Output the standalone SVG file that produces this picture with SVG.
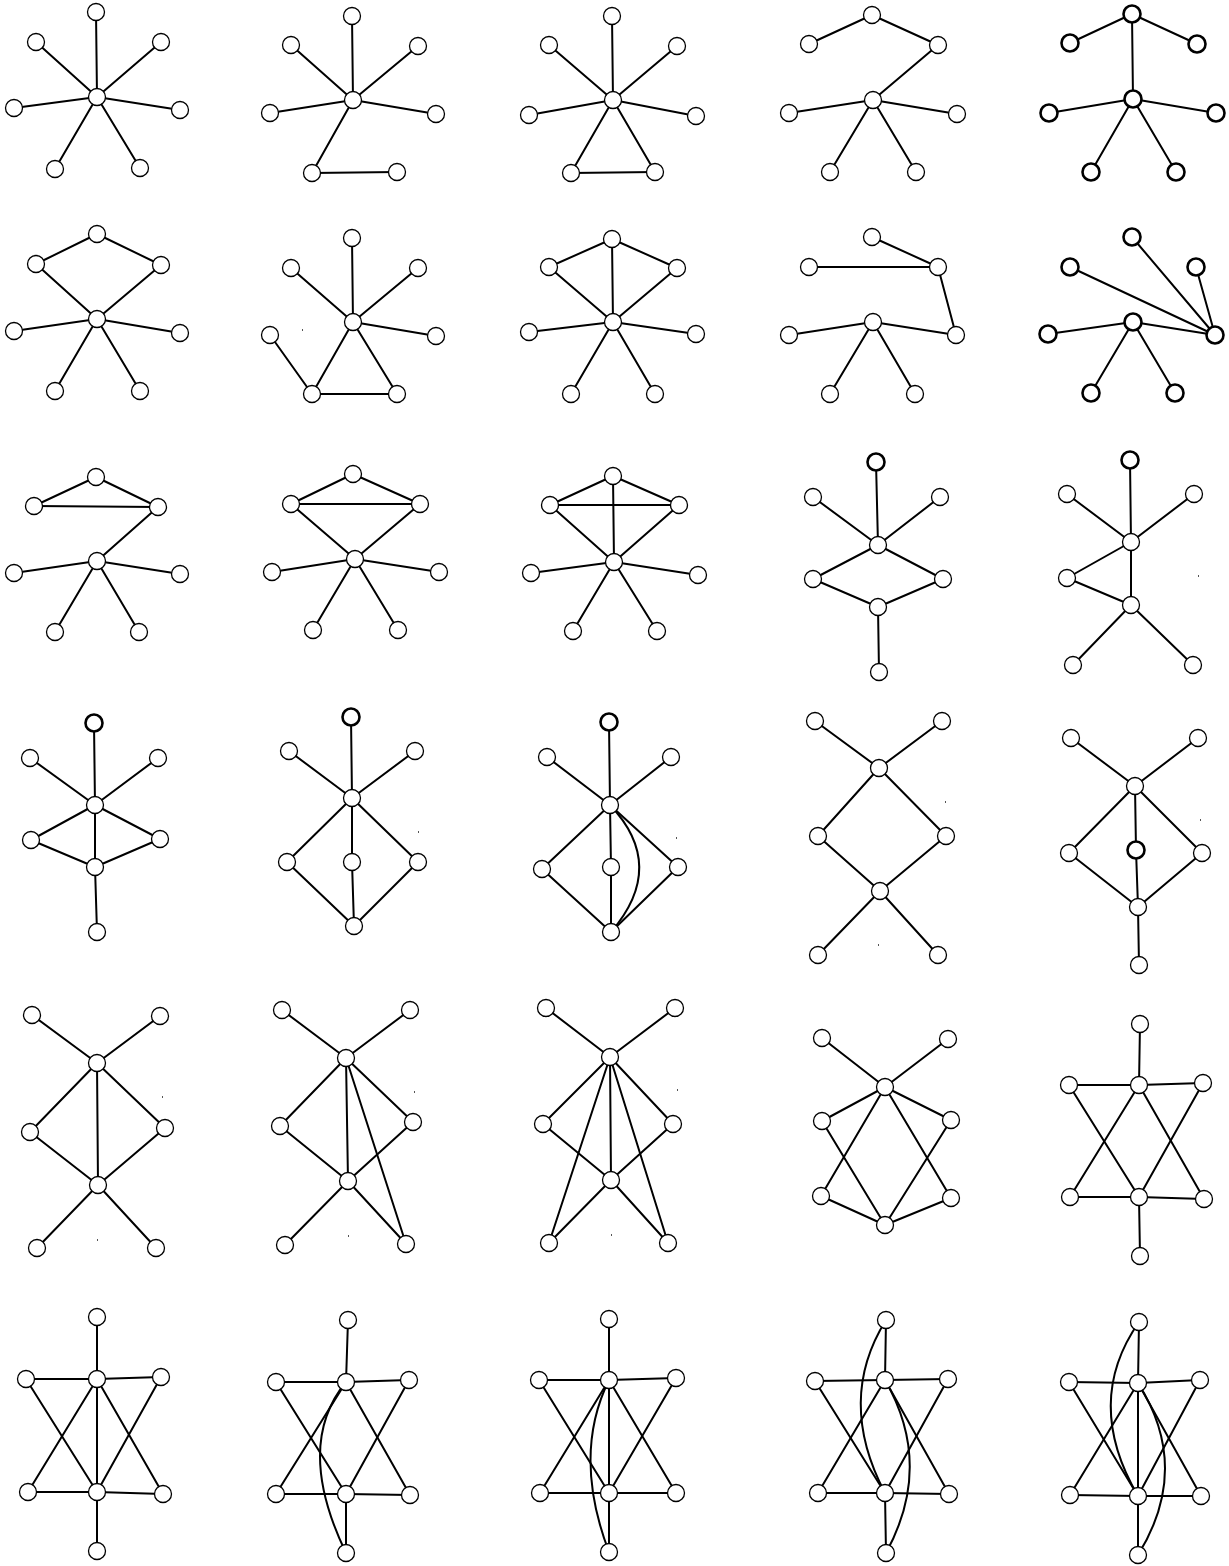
<svg xmlns="http://www.w3.org/2000/svg" width="1229" height="1566" viewBox="0 0 1229 1566">
<style>
.e line,.e path{stroke:#000;stroke-width:2;fill:none;stroke-linecap:round}
circle{fill:#fff;stroke:#000;stroke-width:1.3}
.t circle{stroke-width:2.6}
.dot{fill:#555}
</style>
<rect width="1229" height="1566" fill="#fff"/>
<g id="connectors" class="e">
<!-- G1 -->
<line x1="97" y1="97" x2="96" y2="12"/><line x1="97" y1="97" x2="36" y2="42"/><line x1="97" y1="97" x2="161" y2="42"/><line x1="97" y1="97" x2="14" y2="108"/><line x1="97" y1="97" x2="180" y2="110"/><line x1="97" y1="97" x2="55" y2="169"/><line x1="97" y1="97" x2="140" y2="168"/>
<!-- G2 -->
<line x1="353" y1="100" x2="352" y2="16"/><line x1="353" y1="100" x2="291" y2="45"/><line x1="353" y1="100" x2="418" y2="46"/><line x1="353" y1="100" x2="270" y2="113"/><line x1="353" y1="100" x2="436" y2="114"/><line x1="353" y1="100" x2="312" y2="173"/><line x1="312" y1="173" x2="397" y2="172"/>
<!-- G3 -->
<line x1="613" y1="100" x2="612" y2="16"/><line x1="613" y1="100" x2="549" y2="45"/><line x1="613" y1="100" x2="677" y2="46"/><line x1="613" y1="100" x2="529" y2="115"/><line x1="613" y1="100" x2="696" y2="116"/><line x1="613" y1="100" x2="571" y2="173"/><line x1="613" y1="100" x2="655" y2="172"/><line x1="571" y1="173" x2="655" y2="172"/>
<!-- G4 -->
<line x1="872" y1="15" x2="809" y2="44"/><line x1="872" y1="15" x2="938" y2="45"/><line x1="938" y1="45" x2="873" y2="100"/><line x1="873" y1="100" x2="789" y2="113"/><line x1="873" y1="100" x2="957" y2="114"/><line x1="873" y1="100" x2="830" y2="172"/><line x1="873" y1="100" x2="916" y2="172"/>
<!-- G5 -->
<line x1="1132" y1="14" x2="1070" y2="43"/><line x1="1132" y1="14" x2="1197" y2="44"/><line x1="1132" y1="14" x2="1133" y2="99"/><line x1="1133" y1="99" x2="1049" y2="113"/><line x1="1133" y1="99" x2="1216" y2="113"/><line x1="1133" y1="99" x2="1091" y2="172"/><line x1="1133" y1="99" x2="1176" y2="172"/>
<!-- G6 -->
<line x1="97" y1="234" x2="36" y2="264"/><line x1="97" y1="234" x2="161" y2="265"/><line x1="36" y1="264" x2="97" y2="319"/><line x1="161" y1="265" x2="97" y2="319"/><line x1="97" y1="319" x2="14" y2="331"/><line x1="97" y1="319" x2="180" y2="333"/><line x1="97" y1="319" x2="55" y2="391"/><line x1="97" y1="319" x2="140" y2="391"/>
<!-- G7 -->
<line x1="353" y1="322" x2="352" y2="238"/><line x1="353" y1="322" x2="291" y2="268"/><line x1="353" y1="322" x2="418" y2="268"/><line x1="353" y1="322" x2="436" y2="336"/><line x1="353" y1="322" x2="312" y2="394"/><line x1="353" y1="322" x2="397" y2="394"/><line x1="312" y1="394" x2="397" y2="394"/><line x1="270" y1="335" x2="312" y2="394"/>
<!-- G8 -->
<line x1="612" y1="239" x2="549" y2="267"/><line x1="612" y1="239" x2="677" y2="268"/><line x1="612" y1="239" x2="613" y2="322"/><line x1="549" y1="267" x2="613" y2="322"/><line x1="677" y1="268" x2="613" y2="322"/><line x1="613" y1="322" x2="529" y2="332"/><line x1="613" y1="322" x2="696" y2="334"/><line x1="613" y1="322" x2="571" y2="394"/><line x1="613" y1="322" x2="655" y2="394"/>
<!-- G9 -->
<line x1="872" y1="237" x2="938" y2="267"/><line x1="809" y1="267" x2="938" y2="267"/><line x1="938" y1="267" x2="956" y2="335"/><line x1="873" y1="322" x2="789" y2="335"/><line x1="873" y1="322" x2="956" y2="335"/><line x1="873" y1="322" x2="830" y2="394"/><line x1="873" y1="322" x2="915" y2="394"/>
<!-- G10 -->
<line x1="1070" y1="267" x2="1215" y2="335"/><line x1="1132" y1="237" x2="1215" y2="335"/><line x1="1196" y1="267" x2="1215" y2="335"/><line x1="1133" y1="322" x2="1048" y2="334"/><line x1="1133" y1="322" x2="1215" y2="335"/><line x1="1133" y1="322" x2="1091" y2="393"/><line x1="1133" y1="322" x2="1175" y2="393"/>
<!-- G11 -->
<line x1="96" y1="477" x2="34" y2="506"/><line x1="96" y1="477" x2="158" y2="507"/><line x1="34" y1="506" x2="158" y2="507"/><line x1="158" y1="507" x2="97" y2="561"/><line x1="97" y1="561" x2="14" y2="573"/><line x1="97" y1="561" x2="180" y2="574"/><line x1="97" y1="561" x2="55" y2="632"/><line x1="97" y1="561" x2="139" y2="632"/>
<!-- G12 -->
<line x1="353" y1="474" x2="291" y2="504"/><line x1="353" y1="474" x2="420" y2="504"/><line x1="291" y1="504" x2="420" y2="504"/><line x1="291" y1="504" x2="355" y2="559"/><line x1="420" y1="504" x2="355" y2="559"/><line x1="355" y1="559" x2="272" y2="572"/><line x1="355" y1="559" x2="439" y2="572"/><line x1="355" y1="559" x2="313" y2="630"/><line x1="355" y1="559" x2="398" y2="630"/>
<!-- G13 -->
<line x1="613" y1="476" x2="550" y2="505"/><line x1="613" y1="476" x2="679" y2="505"/><line x1="550" y1="505" x2="679" y2="505"/><line x1="613" y1="476" x2="614" y2="562"/><line x1="550" y1="505" x2="614" y2="562"/><line x1="679" y1="505" x2="614" y2="562"/><line x1="614" y1="562" x2="531" y2="573"/><line x1="614" y1="562" x2="698" y2="575"/><line x1="614" y1="562" x2="573" y2="631"/><line x1="614" y1="562" x2="657" y2="631"/>
<!-- G14 -->
<line x1="876" y1="462" x2="878" y2="545"/><line x1="813" y1="497" x2="878" y2="545"/><line x1="940" y1="497" x2="878" y2="545"/><line x1="878" y1="545" x2="813" y2="579"/><line x1="878" y1="545" x2="943" y2="579"/><line x1="813" y1="579" x2="878" y2="607"/><line x1="943" y1="579" x2="878" y2="607"/><line x1="878" y1="607" x2="879" y2="672"/>
<!-- G15 -->
<line x1="1130" y1="460" x2="1131" y2="542"/><line x1="1067" y1="494" x2="1131" y2="542"/><line x1="1194" y1="494" x2="1131" y2="542"/><line x1="1131" y1="542" x2="1067" y2="578"/><line x1="1131" y1="542" x2="1131" y2="605"/><line x1="1067" y1="578" x2="1131" y2="605"/><line x1="1131" y1="605" x2="1073" y2="665"/><line x1="1131" y1="605" x2="1193" y2="665"/>
<!-- G16 -->
<line x1="94" y1="723" x2="95" y2="805"/><line x1="30" y1="758" x2="95" y2="805"/><line x1="158" y1="758" x2="95" y2="805"/><line x1="95" y1="805" x2="31" y2="840"/><line x1="95" y1="805" x2="160" y2="839"/><line x1="95" y1="805" x2="95" y2="867"/><line x1="31" y1="840" x2="95" y2="867"/><line x1="160" y1="839" x2="95" y2="867"/><line x1="95" y1="867" x2="97" y2="932"/>
<!-- G17 -->
<line x1="351" y1="717" x2="352" y2="798"/><line x1="289" y1="751" x2="352" y2="798"/><line x1="415" y1="751" x2="352" y2="798"/><line x1="352" y1="798" x2="287" y2="862"/><line x1="352" y1="798" x2="352" y2="862"/><line x1="352" y1="798" x2="418" y2="862"/><line x1="287" y1="862" x2="354" y2="926"/><line x1="352" y1="862" x2="354" y2="926"/><line x1="418" y1="862" x2="354" y2="926"/>
<!-- G18 -->
<line x1="609" y1="722" x2="610" y2="805"/><line x1="547" y1="757" x2="610" y2="805"/><line x1="671" y1="757" x2="610" y2="805"/><line x1="610" y1="805" x2="542" y2="869"/><line x1="610" y1="805" x2="611" y2="867"/><line x1="610" y1="805" x2="678" y2="867"/><line x1="542" y1="869" x2="611" y2="932"/><line x1="611" y1="867" x2="611" y2="932"/><line x1="678" y1="867" x2="611" y2="932"/>
<path d="M610,805 Q668,866 611,932"/>
<!-- G19 -->
<line x1="815" y1="721" x2="879" y2="768"/><line x1="942" y1="721" x2="879" y2="768"/><line x1="879" y1="768" x2="818" y2="836"/><line x1="879" y1="768" x2="946" y2="836"/><line x1="818" y1="836" x2="880" y2="891"/><line x1="946" y1="836" x2="880" y2="891"/><line x1="880" y1="891" x2="818" y2="955"/><line x1="880" y1="891" x2="938" y2="955"/>
<!-- G20 -->
<line x1="1071" y1="738" x2="1135" y2="786"/><line x1="1198" y1="738" x2="1135" y2="786"/><line x1="1135" y1="786" x2="1069" y2="853"/><line x1="1135" y1="786" x2="1136" y2="850"/><line x1="1135" y1="786" x2="1202" y2="853"/><line x1="1069" y1="853" x2="1138" y2="907"/><line x1="1136" y1="850" x2="1138" y2="907"/><line x1="1202" y1="853" x2="1138" y2="907"/><line x1="1138" y1="907" x2="1139" y2="965"/>
<!-- G21 -->
<line x1="32" y1="1015" x2="97" y2="1063"/><line x1="160" y1="1016" x2="97" y2="1063"/><line x1="97" y1="1063" x2="30" y2="1132"/><line x1="97" y1="1063" x2="98" y2="1185"/><line x1="97" y1="1063" x2="165" y2="1128"/><line x1="30" y1="1132" x2="98" y2="1185"/><line x1="165" y1="1128" x2="98" y2="1185"/><line x1="98" y1="1185" x2="37" y2="1248"/><line x1="98" y1="1185" x2="156" y2="1248"/>
<!-- G22 -->
<line x1="282" y1="1010" x2="346" y2="1058"/><line x1="410" y1="1010" x2="346" y2="1058"/><line x1="346" y1="1058" x2="280" y2="1126"/><line x1="346" y1="1058" x2="348" y2="1181"/><line x1="346" y1="1058" x2="413" y2="1122"/><line x1="346" y1="1058" x2="406" y2="1244"/><line x1="280" y1="1126" x2="348" y2="1181"/><line x1="413" y1="1122" x2="348" y2="1181"/><line x1="348" y1="1181" x2="285" y2="1245"/><line x1="348" y1="1181" x2="406" y2="1244"/>
<!-- G23 -->
<line x1="546" y1="1008" x2="610" y2="1057"/><line x1="675" y1="1008" x2="610" y2="1057"/><line x1="610" y1="1057" x2="543" y2="1124"/><line x1="610" y1="1057" x2="673" y2="1124"/><line x1="610" y1="1057" x2="611" y2="1180"/><line x1="610" y1="1057" x2="549" y2="1243"/><line x1="610" y1="1057" x2="668" y2="1243"/><line x1="543" y1="1124" x2="611" y2="1180"/><line x1="673" y1="1124" x2="611" y2="1180"/><line x1="611" y1="1180" x2="549" y2="1243"/><line x1="611" y1="1180" x2="668" y2="1243"/>
<!-- G24 -->
<line x1="822" y1="1038" x2="885" y2="1087"/><line x1="948" y1="1039" x2="885" y2="1087"/><line x1="885" y1="1087" x2="822" y2="1121"/><line x1="885" y1="1087" x2="951" y2="1120"/><line x1="885" y1="1087" x2="821" y2="1196"/><line x1="885" y1="1087" x2="951" y2="1198"/><line x1="822" y1="1121" x2="885" y2="1225"/><line x1="951" y1="1120" x2="885" y2="1225"/><line x1="821" y1="1196" x2="885" y2="1225"/><line x1="951" y1="1198" x2="885" y2="1225"/>
<!-- G25 -->
<line x1="1140" y1="1024" x2="1139" y2="1085"/><line x1="1069" y1="1085" x2="1139" y2="1085"/><line x1="1139" y1="1085" x2="1203" y2="1083"/><line x1="1069" y1="1085" x2="1139" y2="1197"/><line x1="1139" y1="1085" x2="1070" y2="1197"/><line x1="1139" y1="1085" x2="1204" y2="1199"/><line x1="1203" y1="1083" x2="1139" y2="1197"/><line x1="1070" y1="1197" x2="1139" y2="1197"/><line x1="1139" y1="1197" x2="1204" y2="1199"/><line x1="1139" y1="1197" x2="1140" y2="1256"/>
<!-- G26 -->
<line x1="97" y1="1317" x2="97" y2="1379"/><line x1="26" y1="1379" x2="97" y2="1379"/><line x1="97" y1="1379" x2="161" y2="1377"/><line x1="26" y1="1379" x2="97" y2="1492"/><line x1="97" y1="1379" x2="28" y2="1492"/><line x1="97" y1="1379" x2="97" y2="1492"/><line x1="97" y1="1379" x2="163" y2="1494"/><line x1="161" y1="1377" x2="97" y2="1492"/><line x1="28" y1="1492" x2="97" y2="1492"/><line x1="97" y1="1492" x2="163" y2="1494"/><line x1="97" y1="1492" x2="97" y2="1551"/>
<!-- G27 -->
<line x1="348" y1="1320" x2="346" y2="1382"/><line x1="276" y1="1382" x2="346" y2="1382"/><line x1="346" y1="1382" x2="409" y2="1380"/><line x1="276" y1="1382" x2="346" y2="1494"/><line x1="346" y1="1382" x2="276" y2="1494"/><line x1="346" y1="1382" x2="410" y2="1495"/><line x1="409" y1="1380" x2="346" y2="1494"/><line x1="276" y1="1494" x2="346" y2="1494"/><line x1="346" y1="1494" x2="410" y2="1495"/><line x1="346" y1="1494" x2="346" y2="1553"/>
<path d="M346,1382 Q294,1445 346,1553"/>
<!-- G28 -->
<line x1="609" y1="1319" x2="609" y2="1380"/><line x1="539" y1="1380" x2="609" y2="1380"/><line x1="609" y1="1380" x2="676" y2="1378"/><line x1="539" y1="1380" x2="609" y2="1493"/><line x1="609" y1="1380" x2="540" y2="1493"/><line x1="609" y1="1380" x2="609" y2="1493"/><line x1="609" y1="1380" x2="676" y2="1493"/><line x1="676" y1="1378" x2="609" y2="1493"/><line x1="540" y1="1493" x2="609" y2="1493"/><line x1="609" y1="1493" x2="676" y2="1493"/><line x1="609" y1="1493" x2="609" y2="1552"/>
<path d="M609,1380 Q572,1455 609,1552"/>
<!-- G29 -->
<line x1="886" y1="1320" x2="885" y2="1380"/><line x1="815" y1="1381" x2="885" y2="1380"/><line x1="885" y1="1380" x2="948" y2="1379"/><line x1="815" y1="1381" x2="885" y2="1493"/><line x1="885" y1="1380" x2="818" y2="1493"/><line x1="885" y1="1380" x2="949" y2="1494"/><line x1="948" y1="1379" x2="885" y2="1493"/><line x1="818" y1="1493" x2="885" y2="1493"/><line x1="885" y1="1493" x2="949" y2="1494"/><line x1="885" y1="1493" x2="886" y2="1553"/>
<path d="M886,1320 Q836,1400 885,1493"/><path d="M885,1380 Q934,1465 886,1553"/>
<!-- G30 -->
<line x1="1139" y1="1322" x2="1138" y2="1383"/><line x1="1069" y1="1382" x2="1138" y2="1383"/><line x1="1138" y1="1383" x2="1200" y2="1380"/><line x1="1069" y1="1382" x2="1138" y2="1496"/><line x1="1138" y1="1383" x2="1070" y2="1495"/><line x1="1138" y1="1383" x2="1138" y2="1496"/><line x1="1138" y1="1383" x2="1201" y2="1496"/><line x1="1200" y1="1380" x2="1138" y2="1496"/><line x1="1070" y1="1495" x2="1138" y2="1496"/><line x1="1138" y1="1496" x2="1201" y2="1496"/><line x1="1138" y1="1496" x2="1138" y2="1555"/>
<path d="M1139,1322 Q1083,1402 1138,1496"/><path d="M1138,1383 Q1192,1468 1138,1555"/>
</g>
<g id="specks" class="dot">
<rect x="302" y="329" width="1" height="2"/><rect x="1198" y="575" width="1" height="2"/><rect x="418" y="831" width="1" height="2"/><rect x="676" y="837" width="1" height="2"/><rect x="945" y="801" width="1" height="2"/><rect x="878" y="944" width="1" height="2"/><rect x="1200" y="819" width="1" height="2"/><rect x="162" y="1096" width="1" height="2"/><rect x="97" y="1239" width="1" height="2"/><rect x="414" y="1091" width="1" height="2"/><rect x="348" y="1235" width="1" height="2"/><rect x="677" y="1089" width="1" height="2"/><rect x="611" y="1234" width="1" height="2"/>
</g>
<g id="nodes">
<g id="g1"><g id="g1a"><circle cx="96" cy="12" r="8.5"/></g><g id="g1b"><circle cx="36" cy="42" r="8.5"/></g><g id="g1c"><circle cx="97" cy="97" r="8.5"/></g><g id="g1d"><circle cx="161" cy="42" r="8.5"/></g><g id="g1e"><circle cx="14" cy="108" r="8.5"/></g><g id="g1f"><circle cx="180" cy="110" r="8.5"/></g><g id="g1g"><circle cx="55" cy="169" r="8.5"/></g><g id="g1h"><circle cx="140" cy="168" r="8.5"/></g></g>
<g id="g2"><g id="g2a"><circle cx="352" cy="16" r="8.5"/></g><g id="g2b"><circle cx="291" cy="45" r="8.5"/></g><g id="g2c"><circle cx="353" cy="100" r="8.5"/></g><g id="g2d"><circle cx="418" cy="46" r="8.5"/></g><g id="g2e"><circle cx="270" cy="113" r="8.5"/></g><g id="g2f"><circle cx="436" cy="114" r="8.5"/></g><g id="g2g"><circle cx="312" cy="173" r="8.5"/></g><g id="g2h"><circle cx="397" cy="172" r="8.5"/></g></g>
<g id="g3"><g id="g3a"><circle cx="612" cy="16" r="8.5"/></g><g id="g3b"><circle cx="549" cy="45" r="8.5"/></g><g id="g3c"><circle cx="613" cy="100" r="8.5"/></g><g id="g3d"><circle cx="677" cy="46" r="8.5"/></g><g id="g3e"><circle cx="529" cy="115" r="8.5"/></g><g id="g3f"><circle cx="696" cy="116" r="8.5"/></g><g id="g3g"><circle cx="571" cy="173" r="8.5"/></g><g id="g3h"><circle cx="655" cy="172" r="8.5"/></g></g>
<g id="g4"><g id="g4a"><circle cx="872" cy="15" r="8.5"/></g><g id="g4b"><circle cx="809" cy="44" r="8.5"/></g><g id="g4c"><circle cx="873" cy="100" r="8.5"/></g><g id="g4d"><circle cx="938" cy="45" r="8.5"/></g><g id="g4e"><circle cx="789" cy="113" r="8.5"/></g><g id="g4f"><circle cx="957" cy="114" r="8.5"/></g><g id="g4g"><circle cx="830" cy="172" r="8.5"/></g><g id="g4h"><circle cx="916" cy="172" r="8.5"/></g></g>
<g id="g5" class="t"><g id="g5a"><circle cx="1132" cy="14" r="8.5"/></g><g id="g5b"><circle cx="1070" cy="43" r="8.5"/></g><g id="g5c"><circle cx="1133" cy="99" r="8.5"/></g><g id="g5d"><circle cx="1197" cy="44" r="8.5"/></g><g id="g5e"><circle cx="1049" cy="113" r="8.5"/></g><g id="g5f"><circle cx="1216" cy="113" r="8.5"/></g><g id="g5g"><circle cx="1091" cy="172" r="8.5"/></g><g id="g5h"><circle cx="1176" cy="172" r="8.5"/></g></g>
<g id="g6"><g id="g6a"><circle cx="97" cy="234" r="8.5"/></g><g id="g6b"><circle cx="36" cy="264" r="8.5"/></g><g id="g6c"><circle cx="97" cy="319" r="8.5"/></g><g id="g6d"><circle cx="161" cy="265" r="8.5"/></g><g id="g6e"><circle cx="14" cy="331" r="8.5"/></g><g id="g6f"><circle cx="180" cy="333" r="8.5"/></g><g id="g6g"><circle cx="55" cy="391" r="8.5"/></g><g id="g6h"><circle cx="140" cy="391" r="8.5"/></g></g>
<g id="g7"><g id="g7a"><circle cx="352" cy="238" r="8.5"/></g><g id="g7b"><circle cx="291" cy="268" r="8.5"/></g><g id="g7c"><circle cx="353" cy="322" r="8.5"/></g><g id="g7d"><circle cx="418" cy="268" r="8.5"/></g><g id="g7e"><circle cx="270" cy="335" r="8.5"/></g><g id="g7f"><circle cx="436" cy="336" r="8.5"/></g><g id="g7g"><circle cx="312" cy="394" r="8.5"/></g><g id="g7h"><circle cx="397" cy="394" r="8.5"/></g></g>
<g id="g8"><g id="g8a"><circle cx="612" cy="239" r="8.5"/></g><g id="g8b"><circle cx="549" cy="267" r="8.5"/></g><g id="g8c"><circle cx="613" cy="322" r="8.5"/></g><g id="g8d"><circle cx="677" cy="268" r="8.5"/></g><g id="g8e"><circle cx="529" cy="332" r="8.5"/></g><g id="g8f"><circle cx="696" cy="334" r="8.5"/></g><g id="g8g"><circle cx="571" cy="394" r="8.5"/></g><g id="g8h"><circle cx="655" cy="394" r="8.5"/></g></g>
<g id="g9"><g id="g9a"><circle cx="872" cy="237" r="8.5"/></g><g id="g9b"><circle cx="809" cy="267" r="8.5"/></g><g id="g9c"><circle cx="873" cy="322" r="8.5"/></g><g id="g9d"><circle cx="938" cy="267" r="8.5"/></g><g id="g9e"><circle cx="789" cy="335" r="8.5"/></g><g id="g9f"><circle cx="956" cy="335" r="8.5"/></g><g id="g9g"><circle cx="830" cy="394" r="8.5"/></g><g id="g9h"><circle cx="915" cy="394" r="8.5"/></g></g>
<g id="g10" class="t"><g id="g10a"><circle cx="1132" cy="237" r="8.5"/></g><g id="g10b"><circle cx="1070" cy="267" r="8.5"/></g><g id="g10c"><circle cx="1133" cy="322" r="8.5"/></g><g id="g10d"><circle cx="1196" cy="267" r="8.5"/></g><g id="g10e"><circle cx="1048" cy="334" r="8.5"/></g><g id="g10f"><circle cx="1215" cy="335" r="8.5"/></g><g id="g10g"><circle cx="1091" cy="393" r="8.5"/></g><g id="g10h"><circle cx="1175" cy="393" r="8.5"/></g></g>
<g id="g11"><g id="g11a"><circle cx="96" cy="477" r="8.5"/></g><g id="g11b"><circle cx="34" cy="506" r="8.5"/></g><g id="g11c"><circle cx="97" cy="561" r="8.5"/></g><g id="g11d"><circle cx="158" cy="507" r="8.5"/></g><g id="g11e"><circle cx="14" cy="573" r="8.5"/></g><g id="g11f"><circle cx="180" cy="574" r="8.5"/></g><g id="g11g"><circle cx="55" cy="632" r="8.5"/></g><g id="g11h"><circle cx="139" cy="632" r="8.5"/></g></g>
<g id="g12"><g id="g12a"><circle cx="353" cy="474" r="8.5"/></g><g id="g12b"><circle cx="291" cy="504" r="8.5"/></g><g id="g12c"><circle cx="355" cy="559" r="8.5"/></g><g id="g12d"><circle cx="420" cy="504" r="8.5"/></g><g id="g12e"><circle cx="272" cy="572" r="8.5"/></g><g id="g12f"><circle cx="439" cy="572" r="8.5"/></g><g id="g12g"><circle cx="313" cy="630" r="8.5"/></g><g id="g12h"><circle cx="398" cy="630" r="8.5"/></g></g>
<g id="g13"><g id="g13a"><circle cx="613" cy="476" r="8.5"/></g><g id="g13b"><circle cx="550" cy="505" r="8.5"/></g><g id="g13c"><circle cx="614" cy="562" r="8.5"/></g><g id="g13d"><circle cx="679" cy="505" r="8.5"/></g><g id="g13e"><circle cx="531" cy="573" r="8.5"/></g><g id="g13f"><circle cx="698" cy="575" r="8.5"/></g><g id="g13g"><circle cx="573" cy="631" r="8.5"/></g><g id="g13h"><circle cx="657" cy="631" r="8.5"/></g></g>
<g id="g14"><g id="g14a" class="t"><circle cx="876" cy="462" r="8.5"/></g><g id="g14b"><circle cx="813" cy="497" r="8.5"/></g><g id="g14c"><circle cx="878" cy="545" r="8.5"/></g><g id="g14d"><circle cx="940" cy="497" r="8.5"/></g><g id="g14e"><circle cx="813" cy="579" r="8.5"/></g><g id="g14f"><circle cx="943" cy="579" r="8.5"/></g><g id="g14g"><circle cx="878" cy="607" r="8.5"/></g><g id="g14h"><circle cx="879" cy="672" r="8.5"/></g></g>
<g id="g15"><g id="g15a" class="t"><circle cx="1130" cy="460" r="8.5"/></g><g id="g15b"><circle cx="1067" cy="494" r="8.5"/></g><g id="g15c"><circle cx="1131" cy="542" r="8.5"/></g><g id="g15d"><circle cx="1194" cy="494" r="8.5"/></g><g id="g15e"><circle cx="1067" cy="578" r="8.5"/></g><g id="g15g"><circle cx="1131" cy="605" r="8.5"/></g><g id="g15k"><circle cx="1073" cy="665" r="8.5"/></g><g id="g15m"><circle cx="1193" cy="665" r="8.5"/></g></g>
<g id="g16"><g id="g16a" class="t"><circle cx="94" cy="723" r="8.5"/></g><g id="g16b"><circle cx="30" cy="758" r="8.5"/></g><g id="g16c"><circle cx="95" cy="805" r="8.5"/></g><g id="g16d"><circle cx="158" cy="758" r="8.5"/></g><g id="g16e"><circle cx="31" cy="840" r="8.5"/></g><g id="g16f"><circle cx="160" cy="839" r="8.5"/></g><g id="g16g"><circle cx="95" cy="867" r="8.5"/></g><g id="g16h"><circle cx="97" cy="932" r="8.5"/></g></g>
<g id="g17"><g id="g17a" class="t"><circle cx="351" cy="717" r="8.5"/></g><g id="g17b"><circle cx="289" cy="751" r="8.5"/></g><g id="g17c"><circle cx="352" cy="798" r="8.5"/></g><g id="g17d"><circle cx="415" cy="751" r="8.5"/></g><g id="g17e"><circle cx="287" cy="862" r="8.5"/></g><g id="g17m"><circle cx="352" cy="862" r="8.5"/></g><g id="g17f"><circle cx="418" cy="862" r="8.5"/></g><g id="g17h"><circle cx="354" cy="926" r="8.5"/></g></g>
<g id="g18"><g id="g18a" class="t"><circle cx="609" cy="722" r="8.5"/></g><g id="g18b"><circle cx="547" cy="757" r="8.5"/></g><g id="g18c"><circle cx="610" cy="805" r="8.5"/></g><g id="g18d"><circle cx="671" cy="757" r="8.5"/></g><g id="g18e"><circle cx="542" cy="869" r="8.5"/></g><g id="g18m"><circle cx="611" cy="867" r="8.5"/></g><g id="g18f"><circle cx="678" cy="867" r="8.5"/></g><g id="g18h"><circle cx="611" cy="932" r="8.5"/></g></g>
<g id="g19"><g id="g19b"><circle cx="815" cy="721" r="8.5"/></g><g id="g19d"><circle cx="942" cy="721" r="8.5"/></g><g id="g19c"><circle cx="879" cy="768" r="8.5"/></g><g id="g19e"><circle cx="818" cy="836" r="8.5"/></g><g id="g19f"><circle cx="946" cy="836" r="8.5"/></g><g id="g19g"><circle cx="880" cy="891" r="8.5"/></g><g id="g19k"><circle cx="818" cy="955" r="8.5"/></g><g id="g19m"><circle cx="938" cy="955" r="8.5"/></g></g>
<g id="g20"><g id="g20b"><circle cx="1071" cy="738" r="8.5"/></g><g id="g20d"><circle cx="1198" cy="738" r="8.5"/></g><g id="g20c"><circle cx="1135" cy="786" r="8.5"/></g><g id="g20e"><circle cx="1069" cy="853" r="8.5"/></g><g id="g20m" class="t"><circle cx="1136" cy="850" r="8.5"/></g><g id="g20f"><circle cx="1202" cy="853" r="8.5"/></g><g id="g20g"><circle cx="1138" cy="907" r="8.5"/></g><g id="g20h"><circle cx="1139" cy="965" r="8.5"/></g></g>
<g id="g21"><g id="g21b"><circle cx="32" cy="1015" r="8.5"/></g><g id="g21d"><circle cx="160" cy="1016" r="8.5"/></g><g id="g21c"><circle cx="97" cy="1063" r="8.5"/></g><g id="g21e"><circle cx="30" cy="1132" r="8.5"/></g><g id="g21f"><circle cx="165" cy="1128" r="8.5"/></g><g id="g21g"><circle cx="98" cy="1185" r="8.5"/></g><g id="g21k"><circle cx="37" cy="1248" r="8.5"/></g><g id="g21m"><circle cx="156" cy="1248" r="8.5"/></g></g>
<g id="g22"><g id="g22b"><circle cx="282" cy="1010" r="8.5"/></g><g id="g22d"><circle cx="410" cy="1010" r="8.5"/></g><g id="g22c"><circle cx="346" cy="1058" r="8.5"/></g><g id="g22e"><circle cx="280" cy="1126" r="8.5"/></g><g id="g22f"><circle cx="413" cy="1122" r="8.5"/></g><g id="g22g"><circle cx="348" cy="1181" r="8.5"/></g><g id="g22k"><circle cx="285" cy="1245" r="8.5"/></g><g id="g22m"><circle cx="406" cy="1244" r="8.5"/></g></g>
<g id="g23"><g id="g23b"><circle cx="546" cy="1008" r="8.5"/></g><g id="g23d"><circle cx="675" cy="1008" r="8.5"/></g><g id="g23c"><circle cx="610" cy="1057" r="8.5"/></g><g id="g23e"><circle cx="543" cy="1124" r="8.5"/></g><g id="g23f"><circle cx="673" cy="1124" r="8.5"/></g><g id="g23g"><circle cx="611" cy="1180" r="8.5"/></g><g id="g23k"><circle cx="549" cy="1243" r="8.5"/></g><g id="g23m"><circle cx="668" cy="1243" r="8.5"/></g></g>
<g id="g24"><g id="g24b"><circle cx="822" cy="1038" r="8.5"/></g><g id="g24d"><circle cx="948" cy="1039" r="8.5"/></g><g id="g24c"><circle cx="885" cy="1087" r="8.5"/></g><g id="g24e"><circle cx="822" cy="1121" r="8.5"/></g><g id="g24f"><circle cx="951" cy="1120" r="8.5"/></g><g id="g24k"><circle cx="821" cy="1196" r="8.5"/></g><g id="g24m"><circle cx="951" cy="1198" r="8.5"/></g><g id="g24h"><circle cx="885" cy="1225" r="8.5"/></g></g>
<g id="g25"><g id="g25a"><circle cx="1140" cy="1024" r="8.5"/></g><g id="g25b"><circle cx="1069" cy="1085" r="8.5"/></g><g id="g25c"><circle cx="1139" cy="1085" r="8.5"/></g><g id="g25d"><circle cx="1203" cy="1083" r="8.5"/></g><g id="g25k"><circle cx="1070" cy="1197" r="8.5"/></g><g id="g25g"><circle cx="1139" cy="1197" r="8.5"/></g><g id="g25m"><circle cx="1204" cy="1199" r="8.5"/></g><g id="g25h"><circle cx="1140" cy="1256" r="8.5"/></g></g>
<g id="g26"><g id="g26a"><circle cx="97" cy="1317" r="8.5"/></g><g id="g26b"><circle cx="26" cy="1379" r="8.5"/></g><g id="g26c"><circle cx="97" cy="1379" r="8.5"/></g><g id="g26d"><circle cx="161" cy="1377" r="8.5"/></g><g id="g26k"><circle cx="28" cy="1492" r="8.5"/></g><g id="g26g"><circle cx="97" cy="1492" r="8.5"/></g><g id="g26m"><circle cx="163" cy="1494" r="8.5"/></g><g id="g26h"><circle cx="97" cy="1551" r="8.5"/></g></g>
<g id="g27"><g id="g27a"><circle cx="348" cy="1320" r="8.5"/></g><g id="g27b"><circle cx="276" cy="1382" r="8.5"/></g><g id="g27c"><circle cx="346" cy="1382" r="8.5"/></g><g id="g27d"><circle cx="409" cy="1380" r="8.5"/></g><g id="g27k"><circle cx="276" cy="1494" r="8.5"/></g><g id="g27g"><circle cx="346" cy="1494" r="8.5"/></g><g id="g27m"><circle cx="410" cy="1495" r="8.5"/></g><g id="g27h"><circle cx="346" cy="1553" r="8.5"/></g></g>
<g id="g28"><g id="g28a"><circle cx="609" cy="1319" r="8.5"/></g><g id="g28b"><circle cx="539" cy="1380" r="8.5"/></g><g id="g28c"><circle cx="609" cy="1380" r="8.5"/></g><g id="g28d"><circle cx="676" cy="1378" r="8.5"/></g><g id="g28k"><circle cx="540" cy="1493" r="8.5"/></g><g id="g28g"><circle cx="609" cy="1493" r="8.5"/></g><g id="g28m"><circle cx="676" cy="1493" r="8.5"/></g><g id="g28h"><circle cx="609" cy="1552" r="8.5"/></g></g>
<g id="g29"><g id="g29a"><circle cx="886" cy="1320" r="8.5"/></g><g id="g29b"><circle cx="815" cy="1381" r="8.5"/></g><g id="g29c"><circle cx="885" cy="1380" r="8.5"/></g><g id="g29d"><circle cx="948" cy="1379" r="8.5"/></g><g id="g29k"><circle cx="818" cy="1493" r="8.5"/></g><g id="g29g"><circle cx="885" cy="1493" r="8.5"/></g><g id="g29m"><circle cx="949" cy="1494" r="8.5"/></g><g id="g29h"><circle cx="886" cy="1553" r="8.5"/></g></g>
<g id="g30"><g id="g30a"><circle cx="1139" cy="1322" r="8.5"/></g><g id="g30b"><circle cx="1069" cy="1382" r="8.5"/></g><g id="g30c"><circle cx="1138" cy="1383" r="8.5"/></g><g id="g30d"><circle cx="1200" cy="1380" r="8.5"/></g><g id="g30k"><circle cx="1070" cy="1495" r="8.5"/></g><g id="g30g"><circle cx="1138" cy="1496" r="8.5"/></g><g id="g30m"><circle cx="1201" cy="1496" r="8.5"/></g><g id="g30h"><circle cx="1138" cy="1555" r="8.5"/></g></g>
</g>
</svg>
